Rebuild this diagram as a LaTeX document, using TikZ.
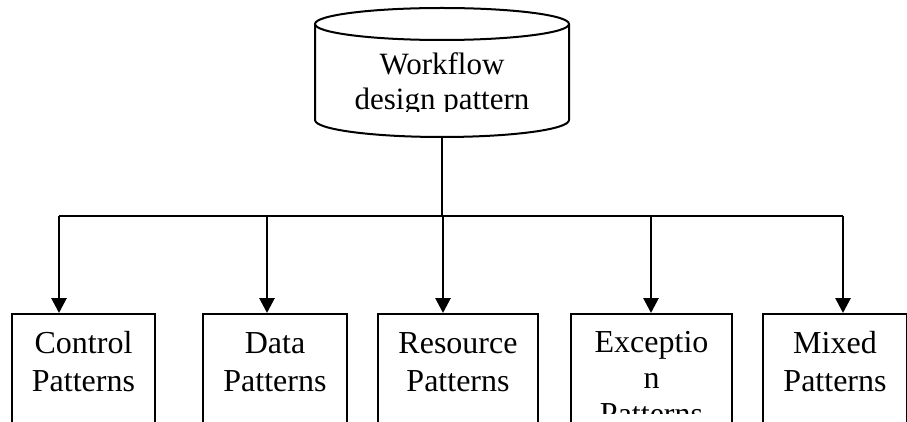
\documentclass[tikz,border=0pt]{standalone}
\usepackage{fontspec}
\setmainfont{Liberation Serif}
\usetikzlibrary{arrows.meta, calc}

\tikzset{
	box/.style = {draw, anchor=north, minimum height=200pt, inner sep=0pt},
	lbl/.style = {font=\fontsize{32}{38}\selectfont, align=center, anchor=base, inner sep=0pt},
	conn/.style = {line width=2.8pt, -{Triangle[width=15pt, length=15pt]}},
}

\begin{document}
\begin{tikzpicture}[x=1pt, y=-1pt, line width=2pt]
	\useasboundingbox (0,0) rectangle (907,422);
	% storage shape on top
	\draw (315,24) -- (315,120) arc[start angle=180, end angle=0, x radius=127, y radius=17] -- (569,24);
	\draw (442,24) ellipse [x radius=127, y radius=16];
	\begin{scope}
		\clip (315,40) rectangle (569,112);
		\node[lbl, font=\fontsize{31}{35}\selectfont] (wf) at (442,110) {Workflow\\design pattern};
	\end{scope}
	\coordinate (wfb) at (442,137);

	% pattern boxes
	\node[box, minimum width=143pt] (cp) at (83.5,313) {};
	\node[box, minimum width=144pt] (dp) at (275,313) {};
	\node[box, minimum width=160pt] (rp) at (458,313) {};
	\node[box, minimum width=161pt] (ep) at (651.5,313) {};
	\node[box, minimum width=144pt] (mp) at (835,313) {};
	\node[lbl] (cpt) at ($(cp.north)+(0,78)$) {Control\\Patterns};
	\node[lbl] (dpt) at ($(dp.north)+(0,78)$) {Data\\Patterns};
	\node[lbl] (rpt) at ($(rp.north)+(0,78)$) {Resource\\Patterns};
	\node[lbl] (mpt) at ($(mp.north)+(0,78)$) {Mixed\\Patterns};
	\begin{scope}
		\clip (ep.north west) rectangle ($(ep.north east)+(0,100)$);
		\node[lbl, font=\fontsize{32}{36}\selectfont] (ept) at ($(ep.north)+(0,111)$) {Exceptio\\n\\Patterns};
	\end{scope}

	% connectors
	\coordinate (bus) at (442,216);
	\coordinate (t1) at (59,216);
	\coordinate (t2) at (267,216);
	\coordinate (t3) at (443,216);
	\coordinate (t4) at (651,216);
	\coordinate (t5) at (843,216);
	\draw (wfb) -- (bus);
	\draw (t1) -- (t5);
	\draw[conn] (t1) -- (t1 |- cp.north);
	\draw[conn] (t2) -- (t2 |- dp.north);
	\draw[conn] (t3) -- (t3 |- rp.north);
	\draw[conn] (t4) -- (t4 |- ep.north);
	\draw[conn] (t5) -- (t5 |- mp.north);
\end{tikzpicture}
\end{document}
